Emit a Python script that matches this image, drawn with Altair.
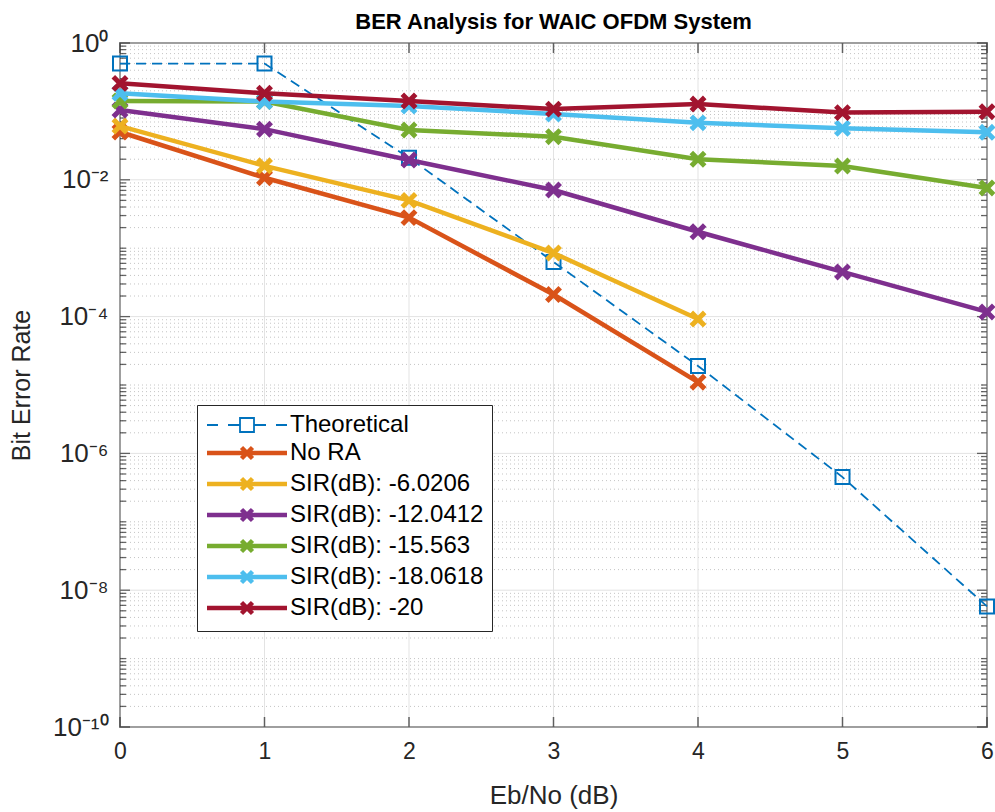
import altair as alt
import pandas as pd

# ---- data -------------------------------------------------------------
ebno_full = [0, 1, 2, 3, 4, 5, 6]
ebno_short = [0, 1, 2, 3, 4]

series_names = [
    "Theoretical",
    "No RA",
    "SIR(dB): -6.0206",
    "SIR(dB): -12.0412",
    "SIR(dB): -15.563",
    "SIR(dB): -18.0618",
    "SIR(dB): -20",
]
series_colors = ["#0072BD", "#D95319", "#EDB120", "#7E2F8E", "#77AC30", "#4DBEEE", "#A2142F"]

ber_theory = [0.5, 0.5, 0.021, 6.3e-4, 1.9e-5, 4.5e-7, 5.8e-9]
ber_no_ra = [0.05, 0.0107, 2.8e-3, 2.1e-4, 1.1e-5]
ber_sir_6 = [0.061, 0.016, 5.0e-3, 8.5e-4, 9.2e-5]
ber_sir_12 = [0.105, 0.055, 0.0195, 7.1e-3, 1.74e-3, 4.5e-4, 1.17e-4]
ber_sir_15 = [0.142, 0.139, 0.0535, 0.0427, 0.020, 0.0159, 7.6e-3]
ber_sir_18 = [0.184, 0.139, 0.12, 0.0916, 0.068, 0.0566, 0.0494]
ber_sir_20 = [0.257, 0.184, 0.142, 0.108, 0.128, 0.096, 0.099]

series_x = [ebno_full, ebno_short, ebno_short, ebno_full, ebno_full, ebno_full, ebno_full]
series_y = [ber_theory, ber_no_ra, ber_sir_6, ber_sir_12, ber_sir_15, ber_sir_18, ber_sir_20]

x_ticks = [0, 1, 2, 3, 4, 5, 6]
major_decades = [1, 1e-2, 1e-4, 1e-6, 1e-8, 1e-10]
minor_positions = [
    m * 10.0 ** k
    for k in range(-10, 0)
    for m in range(1, 10)
    if not (m == 1 and k % 2 == 0)
]

# ---- geometry / style ---------------------------------------------------
W, H = 867, 684
FONT = "Liberation Sans"
AXIS_COLOR = "#262626"

xscale = alt.Scale(domain=[0, 6], nice=False, zero=False)
yscale = alt.Scale(type="log", domain=[1e-10, 1], nice=False)

sup_expr = (
    "datum.value > 0.1 ? '10⁰' : datum.value > 1e-3 ? '10⁻²' : "
    "datum.value > 1e-5 ? '10⁻⁴' : datum.value > 1e-7 ? '10⁻⁶' : "
    "datum.value > 1e-9 ? '10⁻⁸' : '10⁻¹⁰'"
)

x_axis = alt.Axis(
    values=x_ticks, title="Eb/No (dB)", grid=False, domain=False, ticks=False,
    tickSize=0, labelFontSize=23, labelPadding=13, labelColor=AXIS_COLOR,
    labelFlush=False, titleFontSize=26, titleFontWeight="normal",
    titleColor=AXIS_COLOR, titlePadding=19, labelFont=FONT, titleFont=FONT,
)
y_axis = alt.Axis(
    values=major_decades, title="Bit Error Rate", grid=False, domain=False,
    ticks=False, tickSize=0, labelExpr=sup_expr, labelFontSize=26,
    labelPadding=12, labelColor=AXIS_COLOR, labelFlush=False, titleFontSize=25,
    titleFontWeight="normal", titleColor=AXIS_COLOR, titlePadding=18,
    labelFont=FONT, titleFont=FONT,
)


def xq(field):
    return alt.X(field, scale=xscale, axis=x_axis)


def yq(field):
    return alt.Y(field, scale=yscale, axis=y_axis)


minor_df = pd.DataFrame({"v": minor_positions})
major_df = pd.DataFrame({"v": major_decades})
xt_df = pd.DataFrame({"t": x_ticks})

# grid lines
minor_grid = alt.Chart(minor_df).mark_rule(
    color="#c4c4c4", strokeDash=[1, 3], strokeWidth=1
).encode(y=yq("v:Q"))
major_grid_y = alt.Chart(major_df).mark_rule(color="#e3e3e3", strokeWidth=1).encode(
    y=yq("v:Q")
)
major_grid_x = alt.Chart(xt_df).mark_rule(color="#e3e3e3", strokeWidth=1).encode(
    x=xq("t:Q")
)


# inward tick marks on all four sides
def y_ticks(df, length, xpos):
    return alt.Chart(df).mark_tick(
        color=AXIS_COLOR, thickness=1.3, size=length, orient="horizontal"
    ).encode(y=yq("v:Q"), x=alt.value(xpos))


def x_tick_marks(ypos):
    return alt.Chart(xt_df).mark_tick(
        color=AXIS_COLOR, thickness=1.5, size=10, orient="vertical"
    ).encode(x=xq("t:Q"), y=alt.value(ypos))


tick_layers = [
    y_ticks(minor_df, 6, 3),
    y_ticks(minor_df, 6, W - 3),
    y_ticks(major_df, 10, 5),
    y_ticks(major_df, 10, W - 5),
    x_tick_marks(H - 5),
    x_tick_marks(5),
]

# series: line + markers, drawn in legend order
x_marker = "M-1,-1L1,1M-1,1L1,-1"
series_layers = []
for i, name in enumerate(series_names):
    df = pd.DataFrame({"ebno": series_x[i], "ber": series_y[i], "series": name})
    base = alt.Chart(df).encode(x=xq("ebno:Q"), y=yq("ber:Q"))
    if i == 0:
        line = base.mark_line(
            color=series_colors[i], strokeWidth=1.8, strokeDash=[10, 6], clip=False
        )
        pts = base.mark_point(
            shape="square", size=196, filled=False, color=series_colors[i],
            strokeWidth=2, opacity=1, clip=False,
        )
    else:
        line = base.mark_line(color=series_colors[i], strokeWidth=4.5, clip=False)
        pts = base.mark_point(
            shape=x_marker, size=180, filled=False, color=series_colors[i],
            strokeWidth=5, opacity=1, clip=False,
        )
    series_layers += [line, pts]

# legend: line sample with marker, built from the series scales
theory_sym = "M-8,0H-5.8M-3.8,0H-1.4M1.4,0H3.8M5.8,0H8M-1.4,-1.4H1.4V1.4H-1.4Z"
line_sym = "M-8,0H8M-1.1,-1.1L1.1,1.1M-1.1,1.1L1.1,-1.1"
legend_df = pd.DataFrame({"ebno": [0] * 7, "ber": [0.5] * 7, "series": series_names})
legend_layer = alt.Chart(legend_df).mark_point(filled=False, opacity=1).encode(
    x=xq("ebno:Q"),
    y=yq("ber:Q"),
    color=alt.Color(
        "series:N",
        scale=alt.Scale(domain=series_names, range=series_colors),
        legend=alt.Legend(
            title=None, orient="none", legendX=77, legendY=362,
            direction="vertical", columns=1,
            fillColor="white", strokeColor=AXIS_COLOR,
            padding=8, symbolSize=100, symbolOffset=30, labelOffset=31,
            labelFontSize=24, labelFont=FONT, labelColor="black",
            labelLimit=400, rowPadding=1, symbolFillColor="transparent",
        ),
    ),
    shape=alt.Shape(
        "series:N",
        scale=alt.Scale(domain=series_names, range=[theory_sym] + [line_sym] * 6),
    ),
    strokeWidth=alt.StrokeWidth(
        "series:N",
        scale=alt.Scale(
            type="ordinal", domain=series_names, range=[1.8, 4.5, 4.5, 4.5, 4.5, 4.5, 4.5]
        ),
    ),
).transform_filter("false")

chart = alt.layer(
    minor_grid, major_grid_y, major_grid_x, *tick_layers, *series_layers, legend_layer
).properties(
    width=W,
    height=H,
    background="white",
    title=alt.TitleParams(
        "BER Analysis for WAIC OFDM System", fontSize=22, fontWeight="bold",
        font=FONT, color="black", anchor="middle", offset=12, frame="group",
        dy=16,
    ),
    padding={"left": 120, "top": 43, "right": 8, "bottom": 85},
    autosize=alt.AutoSizeParams(type="none"),
).configure_view(
    stroke=AXIS_COLOR, strokeWidth=1.5
)

chart.save("out.html", embed_options={"renderer": "svg", "actions": False})
